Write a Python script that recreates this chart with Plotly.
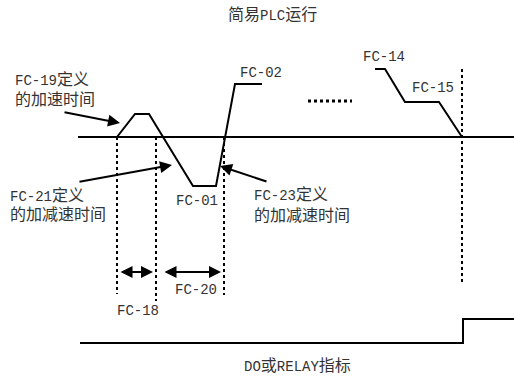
import plotly.graph_objects as go

# 坐标按像素读取 (x 向右, y 向下)
base_x = [78, 514]
base_y = [137, 137]

prof1_x = [117, 135, 149, 193, 216, 235, 262]
prof1_y = [137, 114, 114, 186, 186, 84, 84]

prof2_x = [375, 385, 405, 439, 462]
prof2_y = [69, 69, 102, 102, 137]

dots_x = [308, 352]
dots_y = [101, 101]

vlines_x = [117, 156, 224, 462]
vlines_top = [137, 137, 137, 69]
vlines_bot = [294, 301, 295, 283]

relay_x = [80, 463, 463, 514]
relay_y = [343, 343, 319, 319]

labels = [
    ("简易PLC运行", 272, 15, "center"),
    ("FC-19定义", 13, 80, "left"),
    ("的加速时间", 13, 100, "left"),
    ("FC-21定义", 8, 196, "left"),
    ("的加减速时间", 8, 215, "left"),
    ("FC-23定义", 252, 195, "left"),
    ("的加减速时间", 252, 216, "left"),
    ("FC-01", 197, 201, "center"),
    ("FC-02", 238, 73, "left"),
    ("FC-14", 361, 57, "left"),
    ("FC-15", 410, 88, "left"),
    ("FC-20", 173, 290, "left"),
    ("FC-18", 115, 311, "left"),
    ("DO或RELAY指标", 297, 366, "center"),
]

# 箭头: (起点x, 起点y, 终点x, 终点y, 双向)
arrows = [
    (63, 112, 120, 123, False),
    (78, 182, 172, 165, False),
    (268, 182, 220, 166, False),
    (119, 272, 153, 272, True),
    (163, 272, 221, 272, True),
]

FONT = "Liberation Mono, Noto Sans CJK SC, monospace"


def cjk_spans(s):
    # 中文字符稍大一些, 模仿原图的字距
    out = ""
    for ch in s:
        if ord(ch) > 127:
            out += "<span style='font-size:16px'>" + ch + "</span>"
        else:
            out += ch
    return out


fig = go.Figure()

line_style = dict(color="black", width=2)
fig.add_trace(go.Scatter(x=base_x, y=base_y, mode="lines", line=line_style))
fig.add_trace(go.Scatter(x=prof1_x, y=prof1_y, mode="lines", line=line_style))
fig.add_trace(go.Scatter(x=prof2_x, y=prof2_y, mode="lines", line=line_style))
fig.add_trace(go.Scatter(x=relay_x, y=relay_y, mode="lines", line=line_style))
fig.add_trace(go.Scatter(x=dots_x, y=dots_y, mode="lines",
                         line=dict(color="black", width=3, dash="dot")))

for vx, vt, vb in zip(vlines_x, vlines_top, vlines_bot):
    fig.add_trace(go.Scatter(x=[vx, vx], y=[vt, vb], mode="lines",
                             line=dict(color="black", width=2, dash="dot")))

for text, tx, ty, anchor in labels:
    fig.add_annotation(x=tx, y=ty, text=cjk_spans(text), showarrow=False,
                       xanchor=anchor, yanchor="middle",
                       font=dict(family=FONT, size=14, color="#333"))

for x0, y0, x1, y1, both in arrows:
    fig.add_annotation(x=x1, y=y1, ax=x0, ay=y0, xref="x", yref="y",
                       axref="x", ayref="y", text="", showarrow=True,
                       arrowhead=2, arrowsize=1.2, arrowwidth=2,
                       arrowcolor="black",
                       arrowside="end+start" if both else "end")

fig.update_layout(
    width=514, height=377,
    margin=dict(l=0, r=0, t=0, b=0),
    paper_bgcolor="white", plot_bgcolor="white",
    showlegend=False,
    hovermode=False,
    xaxis=dict(range=[0, 514], visible=False, fixedrange=True),
    yaxis=dict(range=[377, 0], visible=False, fixedrange=True),
)

# 去掉 body 默认边距, 让像素坐标对齐
fig.write_html("out.html",
               config={"displayModeBar": False, "staticPlot": True},
               post_script="document.body.style.margin='0';")
